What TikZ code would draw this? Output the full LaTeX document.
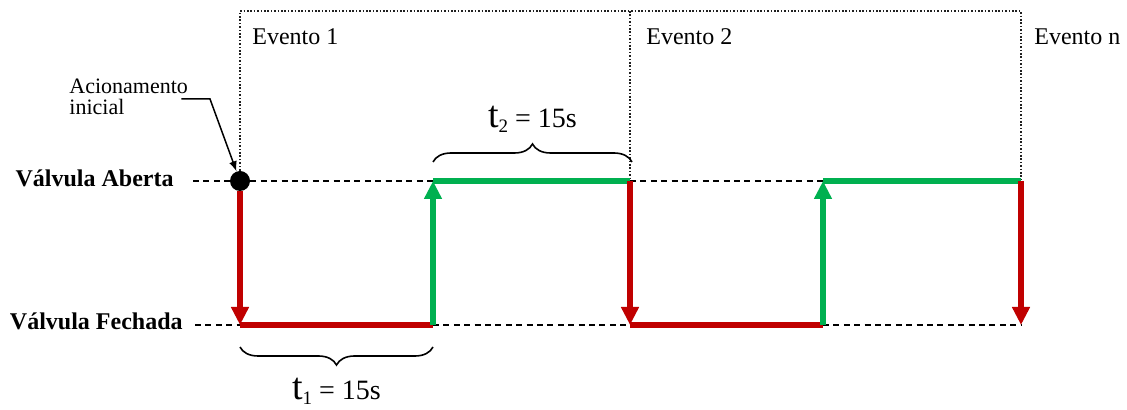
\documentclass[tikz,border=0pt]{standalone}
\usepackage{fontspec}
\setmainfont{Liberation Serif}
\usetikzlibrary{arrows.meta,positioning,calc,decorations.pathreplacing}
\definecolor{vshut}{HTML}{C00000}
\definecolor{vopen}{HTML}{00B050}
\definecolor{evgrey}{HTML}{202020}

\begin{document}
\begin{tikzpicture}[
  x=0.5pt, y=-0.5pt,
  font=\fontsize{12}{14}\selectfont,
  every node/.append style={inner sep=0pt},
  lvl/.style={font=\fontsize{12}{14}\selectfont\bfseries, anchor=base east},
  evt/.style={anchor=base west},
  levelguide/.style={draw=black, line width=0.6pt, dash pattern=on 3pt off 2.2pt},
  evframe/.style={draw=evgrey, line width=0.8pt, dash pattern=on 0.8pt off 0.9pt},
  shutline/.style={draw=vshut, line width=2.6pt},
  openline/.style={draw=vopen, line width=2.6pt},
  valvearrow/.style={-{Triangle[length=9pt,width=8.5pt]}},
  timebrace/.style={draw, line width=0.8pt, decorate},
  tlbl/.style={font=\fontsize{14}{15}\selectfont},
]
\useasboundingbox (0,0) rectangle (1127,410);

% Levels
\node[circle, fill=black, minimum size=10pt] (dot) at (240,181) {};
\coordinate (c0) at (240,325);
\coordinate (c1) at (433,325);
\coordinate (o1) at (433,181);
\coordinate (o2) at (630,181);
\coordinate (c2) at (630,325);
\coordinate (c3) at (823,325);
\coordinate (o3) at (823,181);
\coordinate (o4) at (1021,181);
\coordinate (c4) at (1021,325);

\node[lvl] (aberta) at (174,187) {Válvula Aberta};
\node[lvl] (fechada) at (183,330) {Válvula Fechada};

% Event frames
\coordinate (f1) at (240,11);
\coordinate (f2) at (630,11);
\coordinate (f3) at (1021,11);
\draw[evframe] (dot.north) -- (f1) -- (f3) -- (o4);
\draw[evframe] (f2) -- (o2);

\node[evt] (ev1) at (252,45) {Evento 1};
\node[evt] (ev2) at (646,45) {Evento 2};
\node[evt] (evn) at (1034,45) {Evento n};

% Dashed level guides
\draw[levelguide] ($(aberta.east |- dot)+(19,0)$) -- (dot);
\draw[levelguide] ($(fechada.east |- c0)+(12,0)$) -- (c0);
\draw[levelguide] (dot) -- (o1);
\draw[levelguide] (o2) -- (o3);
\draw[levelguide] (c1) -- (c2);
\draw[levelguide] (c3) -- (c4);

% Valve signal
\draw[shutline, valvearrow] (dot.south) -- (c0);
\draw[shutline] (c0) -- (c1);
\draw[openline, valvearrow] (c1) -- (o1);
\draw[openline] (o1) -- (o2);
\draw[shutline, valvearrow] (o2) -- (c2);
\draw[shutline] (c2) -- (c3);
\draw[openline, valvearrow] (c3) -- (o3);
\draw[openline] (o3) -- (o4);
\draw[shutline, valvearrow] (o4) -- (c4);

% Initial actuation
\node[anchor=north west, align=left, font=\fontsize{11}{10.5}\selectfont] (acion) at (69,79) {Acionamento\\inicial};
\coordinate (bend) at (210,99);
\draw[line width=0.75pt, -{Latex[length=5pt,width=4pt]}]
  ($(acion.east |- bend)+(-7,0)$) -- (bend) -- (dot);

% Time spans
\coordinate (b1l) at (240,347);
\coordinate (b1r) at (433,347);
\draw[timebrace, decoration={brace, mirror, amplitude=9pt}] (b1l) -- (b1r)
  node[midway, below=15pt, tlbl] (t1) {{\fontsize{19}{20}\selectfont t}\raisebox{-2.5pt}{\fontsize{9.5}{10}\selectfont 1} = 15s};

\coordinate (b2l) at (433,162);
\coordinate (b2r) at (632,162);
\draw[timebrace, decoration={brace, amplitude=9pt}] (b2l) -- (b2r)
  node[midway, above=14.5pt, tlbl] (t2) {{\fontsize{19}{20}\selectfont t}\raisebox{-2.5pt}{\fontsize{9.5}{10}\selectfont 2} = 15s};

\end{tikzpicture}
\end{document}
